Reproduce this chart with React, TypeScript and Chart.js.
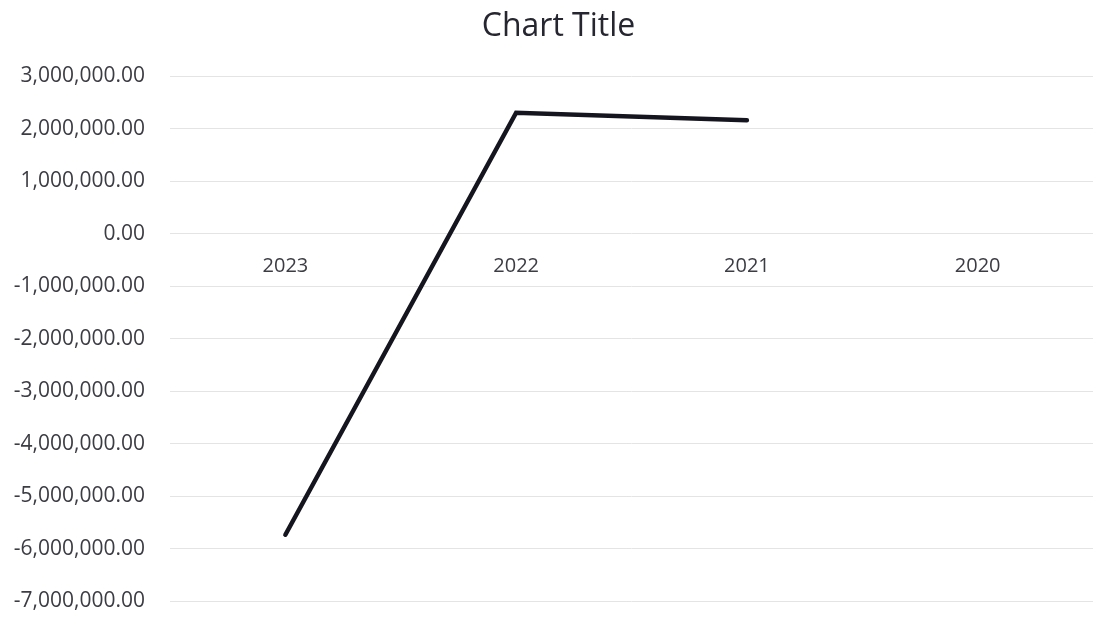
import React, { useEffect, useRef } from "react";
import { Chart, registerables } from "chart.js";

Chart.register(...registerables);

const categories = ["2023", "2022", "2021", "2020"];
const seriesValues: (number | null)[] = [-5730000, 2300000, 2160000, null];
const yMin = -7000000;
const yMax = 3000000;
const yStep = 1000000;
const titleText = "Chart Title";

export default function App() {
  const ref = useRef<HTMLCanvasElement | null>(null);
  useEffect(() => {
    if (!ref.current) return;
    const chart = new Chart(ref.current, {
      type: "line",
      data: {
        labels: categories,
        datasets: [
          {
            label: "Series1",
            data: seriesValues,
            borderColor: "#15151f",
            borderWidth: 4.5,
            borderCapStyle: "round",
            borderJoinStyle: "miter",
            pointRadius: 0,
            pointHoverRadius: 0,
            tension: 0,
            spanGaps: false,
            fill: false,
          },
        ],
      },
      options: {
        animation: false,
        responsive: false,
        maintainAspectRatio: false,
        layout: { padding: { left: 0, right: 0, top: 0, bottom: 25.5 } },
        plugins: {
          legend: { display: false },
          tooltip: { enabled: false },
          title: {
            display: true,
            text: titleText,
            color: "#262630",
            font: { family: "Open Sans", size: 32, weight: "normal", lineHeight: 1.2 },
            padding: { top: 8, bottom: 29.6 },
          },
        },
        scales: {
          x: {
            type: "category",
            offset: true,
            position: { y: 0 } as any,
            afterFit: (scale: any) => {
              scale.height = 0;
            },
            grid: { display: false, drawTicks: false, offset: true },
            border: { display: false },
            ticks: {
              color: "#3c3c44",
              font: { family: "Open Sans", size: 20 },
              padding: 21,
              maxRotation: 0,
            },
          },
          y: {
            min: yMin,
            max: yMax,
            afterFit: (scale: any) => {
              scale.width = 170;
            },
            grid: {
              color: "#e4e4e4",
              lineWidth: 1,
              drawTicks: true,
              tickLength: 25,
              tickColor: "rgba(0,0,0,0)",
            },
            border: { display: false },
            ticks: {
              stepSize: yStep,
              color: "#3c3c44",
              font: { family: "Open Sans", size: 21 },
              padding: 0,
              callback: (v: any) =>
                Number(v).toLocaleString("en-US", {
                  minimumFractionDigits: 2,
                  maximumFractionDigits: 2,
                }),
            },
          },
          yRight: {
            type: "linear",
            position: "right",
            display: true,
            afterFit: (scale: any) => {
              scale.width = 24;
            },
            grid: { display: false, drawTicks: false },
            border: { display: false },
            ticks: { display: false },
          },
        },
      },
    });
    return () => chart.destroy();
  }, []);
  return (
    <div style={{ position: "fixed", left: 0, top: 0, width: 1117, height: 627, background: "#ffffff" }}>
      <canvas ref={ref} width={1117} height={627} style={{ width: 1117, height: 627 }} />
    </div>
  );
}
